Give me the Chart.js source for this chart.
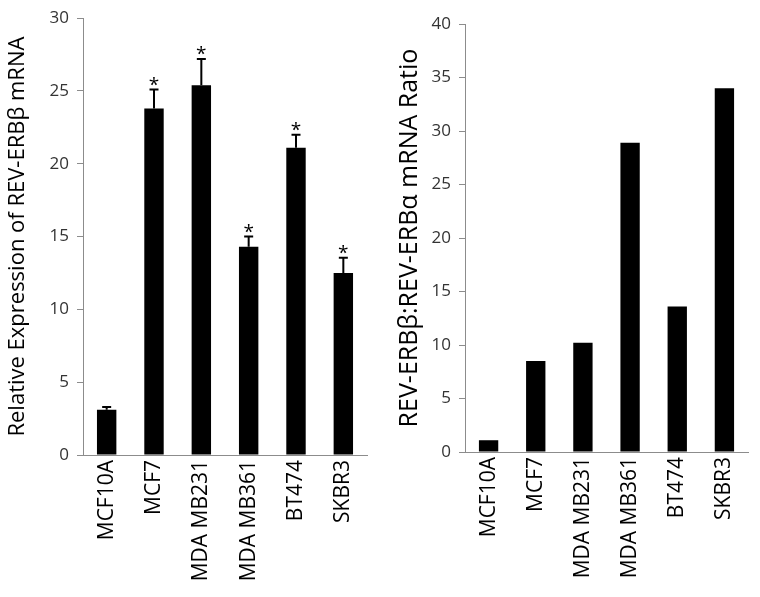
<!DOCTYPE html>
<html>
<head>
<meta charset="utf-8">
<script src="https://cdn.jsdelivr.net/npm/chart.js@4"></script>
<style>
  body { margin:0; background:#fff; }
  #wrap { position:relative; width:760px; height:597px; }
  canvas { position:absolute; top:0; }
  #left { left:0; }
  #right { left:380px; }
</style>
</head>
<body>
<div id="wrap">
  <canvas id="left" width="380" height="597"></canvas>
  <canvas id="right" width="380" height="597"></canvas>
</div>
<script>
const cellLines = ["MCF10A", "MCF7", "MDA MB231", "MDA MB361", "BT474", "SKBR3"];
const relExpr = [3.1, 23.8, 25.4, 14.3, 21.1, 12.5];
const relErr = [0.2, 1.3, 1.8, 0.7, 0.9, 1.05];
const signif = [false, true, true, true, true, true];
const ratio = [1.1, 8.5, 10.2, 28.9, 13.6, 34.0];
const leftTicks = [0, 5, 10, 15, 20, 25, 30];
const rightTicks = [0, 5, 10, 15, 20, 25, 30, 35, 40];

const FONT = "'Open Sans', sans-serif";

// upper error bars plus the significance stars
const errorBars = {
  id: "errorBars",
  afterDatasetsDraw(chart, args, opts){
    if(!opts.err) return;
    const ctx = chart.ctx;
    const y = chart.scales.y;
    const meta = chart.getDatasetMeta(0);
    ctx.save();
    ctx.strokeStyle = "#000";
    ctx.lineWidth = 2;
    meta.data.forEach((bar, i) => {
      const v = chart.data.datasets[0].data[i];
      const top = y.getPixelForValue(v + opts.err[i]);
      const base = y.getPixelForValue(v);
      ctx.beginPath();
      ctx.moveTo(bar.x, base);
      ctx.lineTo(bar.x, top);
      ctx.moveTo(bar.x - 4.5, top);
      ctx.lineTo(bar.x + 4.5, top);
      ctx.stroke();
      if(opts.stars && opts.stars[i]){
        ctx.fillStyle = "#000";
        ctx.font = "19px " + FONT;
        ctx.textAlign = "center";
        ctx.textBaseline = "alphabetic";
        const m = ctx.measureText("*");
        ctx.fillText("*", bar.x, top - 4 - m.actualBoundingBoxDescent);
      }
    });
    ctx.restore();
  }
};

function buildChart(id, values, ticks, max, title, area, err, stars){
  return new Chart(document.getElementById(id), {
    type: "bar",
    data: {
      labels: cellLines,
      datasets: [{ data: values, backgroundColor: "#000", borderWidth: 0,
                   barPercentage: 0.41, categoryPercentage: 1 }]
    },
    options: {
      responsive: false,
      animation: false,
      layout: { padding: { top: area.top, right: area.right, left: 0, bottom: 0 } },
      plugins: {
        legend: { display: false },
        tooltip: { enabled: false },
        errorBars: { err, stars }
      },
      scales: {
        x: {
          grid: { display: false, drawTicks: false },
          border: { color: "#8c8c8c", width: 1 },
          ticks: { color: "#000", font: { family: FONT, size: 21 },
                   minRotation: 90, maxRotation: 90, padding: 5, autoSkip: false },
          afterFit(s){ s.height = 597 - area.bottom; }
        },
        y: {
          min: 0, max,
          afterBuildTicks(s){ s.ticks = ticks.map(v => ({ value: v })); },
          grid: { drawOnChartArea: false, drawTicks: true, tickLength: 6, color: "#8c8c8c" },
          border: { color: "#8c8c8c", width: 1 },
          ticks: { color: "#333", font: { family: FONT, size: 17 }, padding: 8 },
          title: { display: true, text: title, color: "#000",
                   font: { family: FONT, size: area.titleSize }, padding: { top: area.titlePad, bottom: 0 } },
          afterFit(s){ s.width = area.left; }
        }
      }
    },
    plugins: [errorBars]
  });
}

buildChart("left", relExpr, leftTicks, 30, "Relative Expression of REV-ERBβ mRNA",
  { left: 83, right: 13, top: 14, bottom: 455, titlePad: 5, titleSize: 22 }, relErr, signif);
buildChart("right", ratio, rightTicks, 40, "REV-ERBβ:REV-ERBα mRNA Ratio",
  { left: 85, right: 12, top: 24, bottom: 452, titlePad: 15, titleSize: 25 }, null, null);
</script>
</body>
</html>
